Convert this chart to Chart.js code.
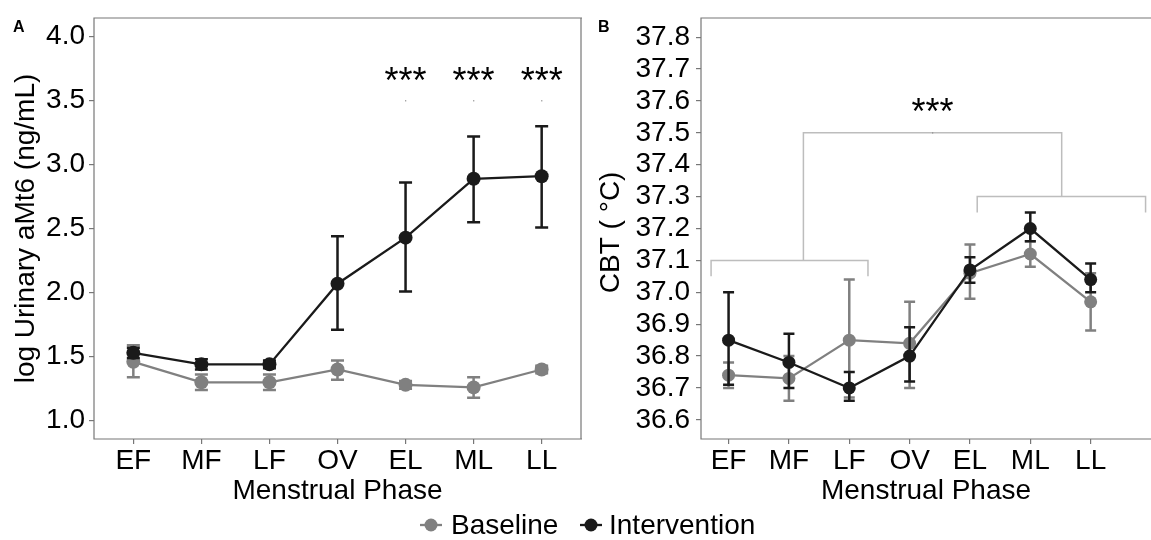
<!DOCTYPE html>
<html>
<head>
<meta charset="utf-8">
<script src="https://cdn.jsdelivr.net/npm/chart.js@4.4.0/dist/chart.umd.min.js"></script>
<style>
body { margin: 0; background: #fff; width: 1151px; height: 540px; overflow: hidden; position: relative;
       font-family: 'Liberation Sans', Arial, Helvetica, sans-serif; }
#cA { position: absolute; left: 0; top: 0; }
#cB { position: absolute; left: 590px; top: 0; }
.key { position: absolute; top: 514px; }
.lab { position: absolute; top: 509px; font-size: 28px; line-height: 32px; color: #000; }
</style>
</head>
<body>
<canvas id="cA" width="600" height="540"></canvas>
<canvas id="cB" width="561" height="540"></canvas>

<svg class="key" style="left:420px" width="22" height="22"><line x1="0" y1="11" x2="22" y2="11" stroke="#808080" stroke-width="2.3"/><circle cx="11" cy="11" r="6.5" fill="#808080"/></svg>
<div class="lab" style="left:451px">Baseline</div>
<svg class="key" style="left:580px" width="22" height="22"><line x1="0" y1="11" x2="22" y2="11" stroke="#1a1a1a" stroke-width="2.3"/><circle cx="11" cy="11" r="6.5" fill="#1a1a1a"/></svg>
<div class="lab" style="left:609px">Intervention</div>

<script>
// ---- data ----
var phases = ['EF', 'MF', 'LF', 'OV', 'EL', 'ML', 'LL'];

// panel A: log urinary aMt6
var baselineA    = [1.46, 1.30, 1.30, 1.40, 1.28, 1.26, 1.40];
var baselineA_lo = [1.34, 1.24, 1.24, 1.32, 1.25, 1.18, 1.37];
var baselineA_hi = [1.59, 1.36, 1.36, 1.47, 1.31, 1.34, 1.43];
var interventionA    = [1.53, 1.44, 1.44, 2.07, 2.43, 2.89, 2.91];
var interventionA_lo = [1.49, 1.40, 1.41, 1.71, 2.01, 2.55, 2.51];
var interventionA_hi = [1.57, 1.48, 1.47, 2.44, 2.86, 3.22, 3.30];
var ticksA = [1.0, 1.5, 2.0, 2.5, 3.0, 3.5, 4.0];

// panel B: CBT
var baselineB    = [36.74, 36.73, 36.85, 36.84, 37.06, 37.12, 36.97];
var baselineB_lo = [36.70, 36.66, 36.67, 36.70, 36.98, 37.08, 36.88];
var baselineB_hi = [36.78, 36.80, 37.04, 36.97, 37.15, 37.16, 37.06];
var interventionB    = [36.85, 36.78, 36.70, 36.80, 37.07, 37.20, 37.04];
var interventionB_lo = [36.71, 36.70, 36.66, 36.72, 37.03, 37.16, 37.00];
var interventionB_hi = [37.00, 36.87, 36.75, 36.89, 37.11, 37.25, 37.09];
var ticksB = [36.6, 36.7, 36.8, 36.9, 37.0, 37.1, 37.2, 37.3, 37.4, 37.5, 37.6, 37.7, 37.8];

// significance marks (x in phase index units, y in data units)
var starsA = [{x: 4, y: 3.72}, {x: 5, y: 3.72}, {x: 6, y: 3.72}];
var starsB = [{x: 3.38, y: 37.59}];
var bracketsB = [
    [[-0.29, 37.05], [-0.29, 37.10], [2.31, 37.10], [2.31, 37.05]],
    [[4.12, 37.25], [4.12, 37.30], [6.91, 37.30], [6.91, 37.25]],
    [[1.24, 37.10], [1.24, 37.50], [5.52, 37.50], [5.52, 37.30]]
];

var FONT = "'Liberation Sans', Arial, Helvetica, sans-serif";
var BLACK = '#1a1a1a', GREY = '#808080';

// ---- plugins ----
// panel frame; the right side of panel B runs off the picture, so it is left open there
var frame = {
    id: 'frame',
    beforeDatasetsDraw: function(chart) {
        var a = chart.chartArea, ctx = chart.ctx;
        ctx.save();
        ctx.strokeStyle = '#777';
        ctx.lineWidth = 1.2;
        ctx.beginPath();
        ctx.moveTo(a.right + 1, a.top);
        ctx.lineTo(a.left, a.top);
        ctx.lineTo(a.left, a.bottom);
        ctx.lineTo(a.right + 1, a.bottom);
        if (a.right < chart.width - 2) {
            ctx.moveTo(a.right, a.top);
            ctx.lineTo(a.right, a.bottom);
        }
        ctx.stroke();
        ctx.restore();
    }
};

var errorBars = {
    id: 'errorBars',
    beforeDatasetDraw: function(chart, args) {
        var ds = chart.data.datasets[args.index];
        if (!ds.lo) return;
        var x = chart.scales.x, y = chart.scales.y, ctx = chart.ctx;
        ctx.save();
        ctx.strokeStyle = ds.borderColor;
        ctx.lineWidth = 2.5;
        ds.lo.forEach(function(lo, i) {
            var px = x.getPixelForValue(i);
            var y1 = y.getPixelForValue(lo), y2 = y.getPixelForValue(ds.hi[i]);
            ctx.beginPath();
            ctx.moveTo(px, y1); ctx.lineTo(px, y2);
            ctx.moveTo(px - ds.cap, y1); ctx.lineTo(px + ds.cap, y1);
            ctx.moveTo(px - ds.cap, y2); ctx.lineTo(px + ds.cap, y2);
            ctx.stroke();
        });
        ctx.restore();
    }
};

function notes(letter, letterX, stars, dotY, brackets) {
    return {
        id: 'notes',
        afterDatasetsDraw: function(chart) {
            var x = chart.scales.x, y = chart.scales.y, ctx = chart.ctx;
            ctx.save();
            (brackets || []).forEach(function(b) {
                ctx.strokeStyle = '#bdbdbd';
                ctx.lineWidth = 1.5;
                ctx.beginPath();
                b.forEach(function(p, k) {
                    var px = x.getPixelForValue(p[0]), py = y.getPixelForValue(p[1]);
                    if (k === 0) ctx.moveTo(px, py); else ctx.lineTo(px, py);
                });
                ctx.stroke();
            });
            ctx.fillStyle = '#000';
            ctx.font = '36px ' + FONT;
            ctx.textAlign = 'center';
            ctx.textBaseline = 'alphabetic';
            stars.forEach(function(s) {
                var px = x.getPixelForValue(s.x), py = y.getPixelForValue(s.y);
                ctx.fillText('***', px, py + 20);
                ctx.fillStyle = '#888';
                ctx.fillRect(px - 0.5, y.getPixelForValue(dotY) - 0.5, 1.2, 1.2);
                ctx.fillStyle = '#000';
            });
            ctx.font = 'bold 16px ' + FONT;
            ctx.textAlign = 'left';
            ctx.fillText(letter, letterX, 32);
            ctx.restore();
        }
    };
}

// ---- chart builders ----
function series(label, values, lo, hi, color, r, cap, order) {
    return {
        label: label,
        data: values.map(function(v, i) { return {x: i, y: v}; }),
        lo: lo, hi: hi, cap: cap,
        borderColor: color, backgroundColor: color,
        borderWidth: 2.3, pointRadius: r, pointHoverRadius: r, pointBorderWidth: 0,
        tension: 0, order: order, clip: false
    };
}

function buildOptions(cfg) {
    var tickFont = {family: FONT, size: 28};
    return {
        responsive: false,
        animation: false,
        devicePixelRatio: 1,
        layout: {padding: cfg.padding, autoPadding: false},
        plugins: {legend: {display: false}, tooltip: {enabled: false}},
        scales: {
            x: {
                type: 'linear', min: cfg.xmin, max: cfg.xmax,
                afterBuildTicks: function(s) { s.ticks = phases.map(function(p, i) { return {value: i}; }); },
                afterFit: function(s) { s.height = 80; s.paddingLeft = 0; s.paddingRight = 0; },
                ticks: {callback: function(v) { return phases[v]; }, font: tickFont, color: '#000', padding: 0,
                        autoSkip: false, maxRotation: 0},
                grid: {drawOnChartArea: false, tickLength: 5, color: '#777', lineWidth: 1.2},
                border: {display: false},
                title: {display: true, text: 'Menstrual Phase', font: tickFont, color: '#000',
                        padding: {top: 0, bottom: 11}}
            },
            y: {
                min: cfg.ymin, max: cfg.ymax,
                afterBuildTicks: function(s) { s.ticks = cfg.yticks.map(function(v) { return {value: v}; }); },
                afterFit: function(s) { s.width = cfg.yWidth; s.paddingTop = 0; s.paddingBottom = 0; },
                ticks: {callback: function(v) { return v.toFixed(1); }, font: tickFont, color: '#000',
                        padding: cfg.tickPad, autoSkip: false},
                grid: {drawOnChartArea: false, tickLength: 5, color: '#777', lineWidth: 1.2},
                border: {display: false},
                title: {display: true, text: cfg.yTitle, font: tickFont, color: '#000',
                        padding: {top: cfg.titlePad, bottom: 0}}
            }
        }
    };
}

new Chart(document.getElementById('cA'), {
    type: 'line',
    data: {datasets: [
        series('Baseline', baselineA, baselineA_lo, baselineA_hi, GREY, 7, 6.5, 1),
        series('Intervention', interventionA, interventionA_lo, interventionA_hi, BLACK, 7, 6.5, 0)
    ]},
    options: buildOptions({
        xmin: -0.578, xmax: 6.578, ymin: 0.857, ymax: 4.146, yticks: ticksA,
        yTitle: 'log Urinary aMt6 (ng/mL)', yWidth: 94, titlePad: 9, tickPad: 4,
        padding: {left: 0, right: 19, top: 18, bottom: 21}
    }),
    plugins: [frame, errorBars, notes('A', 13, starsA, 3.50, null)]
});

new Chart(document.getElementById('cB'), {
    type: 'line',
    data: {datasets: [
        series('Baseline', baselineB, baselineB_lo, baselineB_hi, GREY, 6.5, 5.5, 1),
        series('Intervention', interventionB, interventionB_lo, interventionB_hi, BLACK, 6.5, 5.5, 0)
    ]},
    options: buildOptions({
        xmin: -0.457, xmax: 7.0, ymin: 36.54, ymax: 37.86, yticks: ticksB,
        yTitle: 'CBT ( \u00B0C) ', yWidth: 111, titlePad: 4, tickPad: 6,
        padding: {left: 0, right: 0, top: 18, bottom: 21}
    }),
    plugins: [frame, errorBars, notes('B', 8, starsB, 37.50, bracketsB)]
});
</script>
</body>
</html>
